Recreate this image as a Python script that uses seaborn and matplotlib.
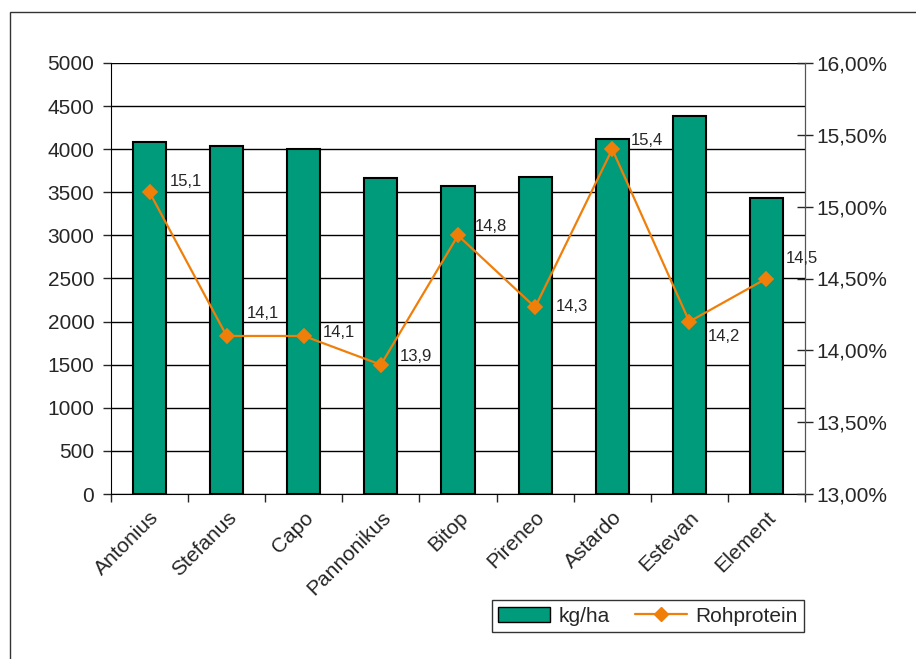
import matplotlib
matplotlib.use('Agg')
import numpy as np
import pandas as pd
import seaborn as sns
import matplotlib.pyplot as plt
from matplotlib.ticker import FuncFormatter, MultipleLocator, FixedLocator
from matplotlib.lines import Line2D
from matplotlib.patches import Patch, Rectangle

sorten = ['Antonius', 'Stefanus', 'Capo', 'Pannonikus', 'Bitop', 'Pireneo', 'Astardo', 'Estevan', 'Element']
ertrag = [4080, 4040, 4000, 3670, 3570, 3680, 4115, 4385, 3435]
rohprotein = [15.1, 14.1, 14.1, 13.9, 14.8, 14.3, 15.4, 14.2, 14.5]
# label offsets in pixels (dx, dy) relative to the point
label_off = [(36, 11), (36, 22), (35, 3), (35, 8), (33, 9), (37, 1), (35, 9), (35, -15), (35, 20)]

df = pd.DataFrame({'Sorte': sorten, 'kg/ha': ertrag, 'Rohprotein': rohprotein})

sns.set_style('white')
plt.rcParams['font.family'] = ['Liberation Sans', 'DejaVu Sans']

bar_color = '#009B7A'
line_color = '#F07F0A'

fig = plt.figure(figsize=(9.16, 6.59), dpi=100)
ax = fig.add_axes([111 / 916, 1 - 494 / 659, (805 - 111) / 916, (494 - 63) / 659])

sns.barplot(data=df, x='Sorte', y='kg/ha', color=bar_color, width=0.43,
            edgecolor='black', linewidth=1.5, saturation=1, ax=ax, zorder=3)
ax.set_xlim(-0.5, len(sorten) - 0.5)
ax.set_ylim(0, 5000)
ax.yaxis.set_major_locator(MultipleLocator(500))
ax.grid(axis='y', color='black', linewidth=1, zorder=0)
ax.set_axisbelow(True)
ax.set_xlabel('')
ax.set_ylabel('')
ax.spines['top'].set_visible(False)
ax.spines['left'].set_color('black')
ax.spines['bottom'].set_color('black')
ax.tick_params(axis='y', left=True, direction='out', length=6, width=1, labelsize=15, pad=6)
ax.tick_params(axis='x', which='major', length=0, labelsize=15, pad=10)
ax.xaxis.set_minor_locator(FixedLocator(np.arange(-0.5, len(sorten), 1.0)))
ax.tick_params(axis='x', which='minor', bottom=True, direction='out', length=6, width=1)
plt.setp(ax.get_xticklabels(), rotation=45, ha='right', rotation_mode='anchor')

ax2 = ax.twinx()
sns.pointplot(data=df, x='Sorte', y='Rohprotein', color=line_color, markers='D',
              markersize=7, linewidth=1.6, ax=ax2)
ax2.set_ylim(13, 16)
ax2.set_xlim(-0.5, len(sorten) - 0.5)
ax2.yaxis.set_major_locator(MultipleLocator(0.5))
ax2.yaxis.set_major_formatter(FuncFormatter(lambda v, p: f'{v:.2f}%'.replace('.', ',')))
ax2.set_ylabel('')
ax2.set_xlabel('')
for s in ['top', 'left', 'bottom']:
    ax2.spines[s].set_visible(False)
ax2.spines['right'].set_color('#555555')
ax2.tick_params(axis='y', right=True, direction='inout', length=12, width=1, labelsize=15, pad=2)

for i, v in enumerate(rohprotein):
    dx, dy = label_off[i]
    ax2.annotate(f'{v:.1f}'.replace('.', ','), (i, v), xytext=(dx * 0.72, dy * 0.72),
                 textcoords='offset points', ha='center', va='center', fontsize=12)

# outer frame
fig.patches.append(Rectangle((10 / 916, -0.1), 1.2, 1.1 - 12 / 659, transform=fig.transFigure,
                             fill=False, edgecolor='#333333', linewidth=1))

handles = [Patch(facecolor=bar_color, edgecolor='black', linewidth=1),
           Line2D([0], [0], color=line_color, marker='D', markersize=7, linewidth=1.6)]
fig.legend(handles, ['kg/ha', 'Rohprotein'], loc='center', bbox_to_anchor=(648 / 916, 1 - 616 / 659),
           ncol=2, frameon=True, fancybox=False, edgecolor='black', fontsize=15,
           handlelength=2.5, handletextpad=0.4, columnspacing=1.2, borderpad=0.3)

plt.savefig('out.png', dpi=100)
